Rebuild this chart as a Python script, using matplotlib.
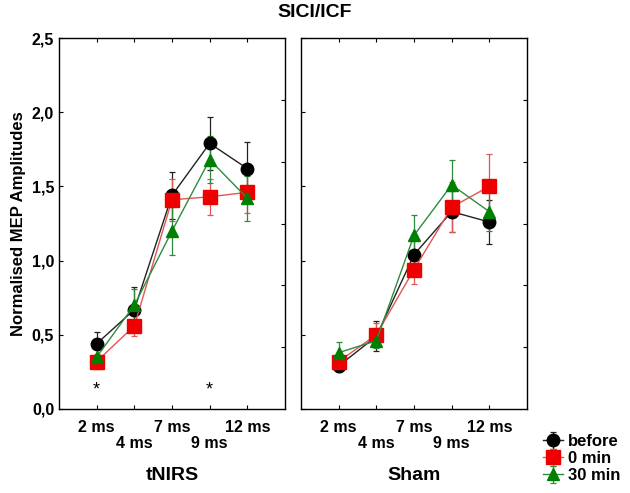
import matplotlib
matplotlib.use("Agg")
import matplotlib.pyplot as plt
import numpy as np

plt.rcParams['font.family'] = ['Liberation Sans', 'DejaVu Sans']
plt.rcParams['font.weight'] = 'bold'
plt.rcParams['axes.labelweight'] = 'bold'

# categories (inter-stimulus intervals)
intervals = ["2 ms", "4 ms", "7 ms", "9 ms", "12 ms"]
conditions = ["before", "0 min", "30 min"]

# tNIRS panel: means and error (SEM)
tnirs_before = [0.44, 0.67, 1.44, 1.79, 1.62]
tnirs_before_err = [0.08, 0.15, 0.16, 0.18, 0.18]
tnirs_0min = [0.32, 0.56, 1.41, 1.43, 1.46]
tnirs_0min_err = [0.05, 0.07, 0.14, 0.12, 0.14]
tnirs_30min = [0.35, 0.70, 1.20, 1.68, 1.42]
tnirs_30min_err = [0.07, 0.11, 0.16, 0.16, 0.15]

# Sham panel
sham_before = [0.29, 0.49, 1.04, 1.33, 1.26]
sham_before_err = [0.04, 0.10, 0.10, 0.14, 0.15]
sham_0min = [0.32, 0.50, 0.94, 1.36, 1.50]
sham_0min_err = [0.05, 0.08, 0.10, 0.17, 0.22]
sham_30min = [0.38, 0.46, 1.17, 1.51, 1.33]
sham_30min_err = [0.07, 0.05, 0.14, 0.17, 0.13]

# significance markers (tNIRS)
star_positions = ["2 ms", "9 ms"]
star_level = 0.13

colors = ['black', '#ee0000', '#008000']
line_colors = ['#222222', '#e05555', '#2e8b3e']
markers = ['o', 's', '^']
msizes = [9, 10, 9]

fig = plt.figure(figsize=(6.3, 4.93), dpi=100)
ax1 = fig.add_axes([0.0937, 0.1704, 0.3587, 0.7525])
ax2 = fig.add_axes([0.4778, 0.1704, 0.3587, 0.7525])

x = np.arange(1, len(intervals) + 1)

panels = [
    (ax1, [tnirs_before, tnirs_0min, tnirs_30min],
     [tnirs_before_err, tnirs_0min_err, tnirs_30min_err], "tNIRS"),
    (ax2, [sham_before, sham_0min, sham_30min],
     [sham_before_err, sham_0min_err, sham_30min_err], "Sham"),
]

handles = []
for ax, means, errs, name in panels:
    for i in range(3):
        h = ax.errorbar(x, means[i], yerr=errs[i], color=line_colors[i],
                        ecolor=line_colors[i], elinewidth=0.9, capsize=2.5,
                        capthick=0.9, linewidth=1.0, marker=markers[i],
                        markersize=msizes[i], markerfacecolor=colors[i],
                        markeredgecolor=colors[i], label=conditions[i])
        if ax is ax1:
            handles.append(h)
    ax.set_xlim(0, 6)
    ax.set_ylim(0, 2.5)
    ax.set_xticks(x)
    ax.set_xticklabels([lab if j % 2 == 0 else "\n" + lab
                        for j, lab in enumerate(intervals)], fontsize=11.5,
                       linespacing=1.05)
    ax.tick_params(axis='x', direction='in', top=True, length=3, pad=8)
    ax.tick_params(axis='y', direction='in', length=3, labelsize=11.5)
    ax.set_yticks([0, 0.5, 1.0, 1.5, 2.0, 2.5])
    ax.set_xlabel(name, fontsize=14, labelpad=12)
    for s in ax.spines.values():
        s.set_linewidth(1.0)
        s.set_color('#333333')
    # secondary ticks on the right spine
    tw = ax.twinx()
    tw.set_ylim(0, 2.5)
    tw.set_yticks([2.5 * k / 6 for k in range(1, 6)])
    tw.set_yticklabels([])
    tw.tick_params(axis='y', direction='in', length=3)

ax1.set_yticklabels(["0,0", "0,5", "1,0", "1,5", "2,0", "2,5"])
ax2.set_yticklabels([])
ax1.set_ylabel("Normalised MEP Amplitudes", fontsize=12, labelpad=4)

for pos in star_positions:
    ax1.text(intervals.index(pos) + 1, star_level, "*", ha='center',
             va='center', fontsize=13, fontweight='normal')

fig.text(0.5, 0.975, "SICI/ICF", ha='center', va='center', fontsize=14)

fig.legend(handles=handles, labels=conditions, loc='lower right',
           bbox_to_anchor=(1.0, 0.0), frameon=False, fontsize=12,
           handlelength=1.2, handletextpad=0.3, labelspacing=0.12,
           borderaxespad=0.2)

fig.savefig("out.png", dpi=100)
